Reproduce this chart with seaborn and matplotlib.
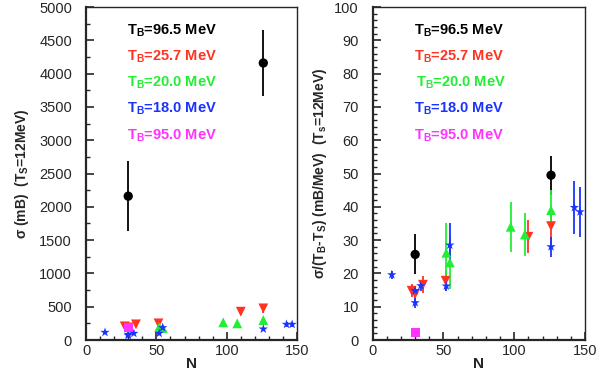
import numpy as np
import pandas as pd
import seaborn as sns
import matplotlib
matplotlib.use("Agg")
import matplotlib.pyplot as plt
from matplotlib.ticker import MultipleLocator

# N values and cross sections
n_black = [30, 126]
sig_black = [2160, 4160]
sig_black_err = [530, 490]
rat_black = [25.7, 49.5]
rat_black_err = [6.0, 5.8]

n_red = [27.5, 30, 35.5, 51.5, 110, 126]
sig_red = [205, 190, 235, 250, 425, 475]
sig_red_err = [20, 20, 25, 30, 50, 70]
rat_red = [14.8, 13.8, 16.6, 17.8, 31.0, 34.2]
rat_red_err = [2.0, 2.0, 2.5, 3.0, 5.0, 5.5]

n_green = [52, 54.5, 97.5, 107.5, 126]
sig_green = [195, 180, 265, 250, 300]
sig_green_err = [25, 25, 30, 25, 30]
rat_green = [26.2, 23.3, 34.0, 31.7, 39.0]
rat_green_err = [9.0, 8.0, 7.6, 6.5, 6.0]

n_blue = [13.5, 30, 30, 34, 52, 54.5, 126, 142.5, 146.5]
sig_blue = [115, 85, 70, 100, 100, 185, 165, 235, 235]
sig_blue_err = [8, 8, 8, 8, 8, 30, 15, 40, 40]
rat_blue = [19.6, 14.8, 11.2, 16.3, 16.2, 28.5, 28.0, 39.8, 38.5]
rat_blue_err = [1.2, 1.5, 1.5, 1.5, 1.5, 6.5, 3.0, 8.0, 7.5]

n_mag = [30]
sig_mag = [190]
sig_mag_err = [10]
rat_mag = [2.3]
rat_mag_err = [0.3]

labels = ["96.5", "25.7", "20.0", "18.0", "95.0"]
colors = ["#000000", "#ff3322", "#22ee33", "#1a33ff", "#ff33ff"]
markers = ["o", "v", "^", "*", "s"]
msizes = [45, 50, 50, 50, 45]

sns.set_style("ticks")
plt.rcParams["font.family"] = ["Liberation Sans", "DejaVu Sans"]
plt.rcParams["mathtext.fontset"] = "custom"
plt.rcParams["mathtext.rm"] = "Liberation Sans"
plt.rcParams["mathtext.bf"] = "Liberation Sans:bold"
plt.rcParams["mathtext.it"] = "Liberation Sans:italic"

rows = []
groups = [
    (n_black, sig_black, sig_black_err, rat_black, rat_black_err),
    (n_red, sig_red, sig_red_err, rat_red, rat_red_err),
    (n_green, sig_green, sig_green_err, rat_green, rat_green_err),
    (n_blue, sig_blue, sig_blue_err, rat_blue, rat_blue_err),
    (n_mag, sig_mag, sig_mag_err, rat_mag, rat_mag_err),
]
for lab, (n, s, se, r, re) in zip(labels, groups):
    for i in range(len(n)):
        rows.append({"N": n[i], "sigma": s[i], "sigma_err": se[i],
                     "ratio": r[i], "ratio_err": re[i], "TB": lab})
df = pd.DataFrame(rows)

fig = plt.figure(figsize=(6.1, 3.72), dpi=100)
ax1 = fig.add_axes([0.141, 0.086, 0.346, 0.895])
ax2 = fig.add_axes([0.611, 0.086, 0.348, 0.895])

for ax, col, ecol, ymax, ymaj, ymin in [
        (ax1, "sigma", "sigma_err", 5000, 500, 250),
        (ax2, "ratio", "ratio_err", 100, 10, 2)]:
    for lab, c in zip(labels, colors):
        d = df[df["TB"] == lab]
        ax.errorbar(d["N"], d[col], yerr=d[ecol], fmt="none", ecolor=c,
                    elinewidth=1.3, capsize=0, zorder=2)
    sns.scatterplot(data=df, x="N", y=col, hue="TB", style="TB", size="TB",
                    hue_order=labels, style_order=labels, size_order=labels,
                    palette=colors, markers=dict(zip(labels, markers)),
                    sizes=dict(zip(labels, msizes)), edgecolor="none",
                    legend=False, ax=ax, zorder=3)
    ax.set_xlim(0, 150)
    ax.set_ylim(0, ymax)
    ax.xaxis.set_major_locator(MultipleLocator(50))
    ax.xaxis.set_minor_locator(MultipleLocator(10))
    ax.yaxis.set_major_locator(MultipleLocator(ymaj))
    ax.yaxis.set_minor_locator(MultipleLocator(ymin))
    ax.tick_params(which="major", direction="in", length=6, width=1.2,
                   labelsize=10.5, top=False, right=False)
    ax.tick_params(axis="y", which="major", pad=10)
    ax.tick_params(axis="x", which="major", pad=3)
    ax.tick_params(which="minor", direction="in", length=3, width=1.0,
                   top=False, right=False)
    for side in ["left", "bottom"]:
        ax.spines[side].set_linewidth(1.6)
    for side in ["top", "right"]:
        ax.spines[side].set_linewidth(1.0)
        ax.spines[side].set_visible(True)
    ax.set_xlabel("N", fontsize=11, fontweight="bold", labelpad=-1)
    ypos = [0.928, 0.852, 0.772, 0.694, 0.613]
    for k, (lab, c) in enumerate(zip(labels, colors)):
        ax.text(0.193 if k != 2 or ax is ax1 else 0.205, ypos[k],
                r"T$_\mathbf{B}$=" + lab + " MeV", transform=ax.transAxes,
                color=c, fontsize=10.5, fontweight="bold", va="center")

ax1.set_ylabel(r"σ (mB)  (T$_\mathbf{S}$=12MeV)", fontsize=10,
               fontweight="bold", labelpad=6)
ax2.set_ylabel(r"σ/(T$_\mathbf{B}$-T$_\mathbf{S}$) (mB/MeV)  (T$_\mathbf{s}$=12MeV)",
               fontsize=10, fontweight="bold", labelpad=4)

fig.savefig("out.png", dpi=100)
